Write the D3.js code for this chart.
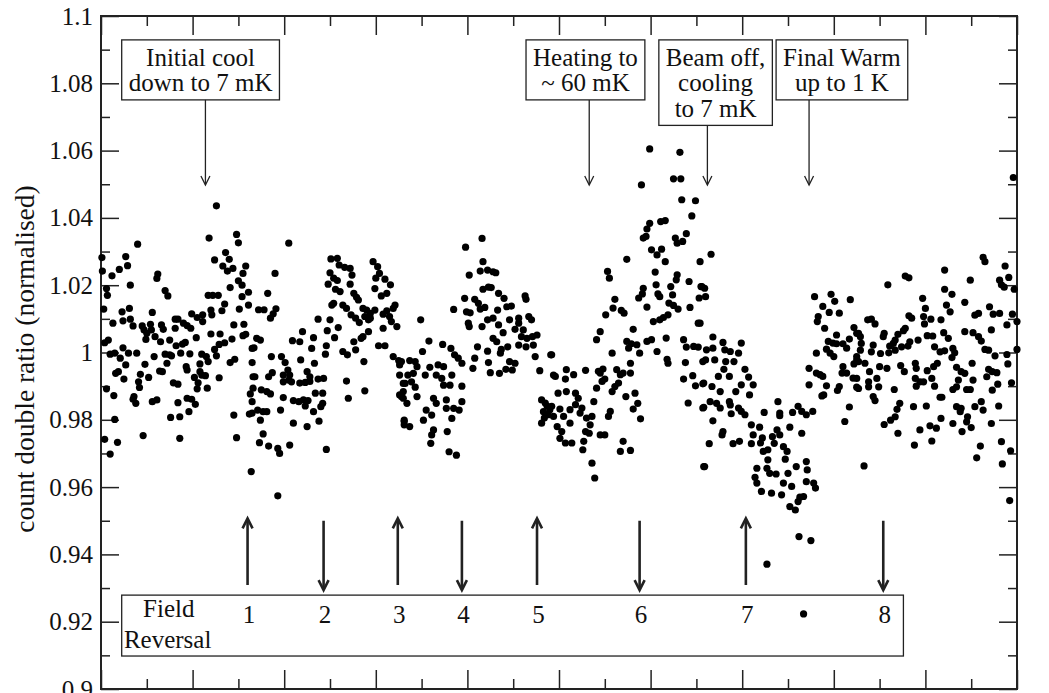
<!DOCTYPE html>
<html>
<head>
<meta charset="utf-8">
<script src="https://cdn.jsdelivr.net/npm/d3@7"></script>
<style>
  body { margin: 0; background: #fff; }
  text { font-family: "Liberation Serif", "Times New Roman", serif; fill: #111; }
</style>
</head>
<body>
<svg id="chart" width="1049" height="693"></svg>
<script>
const block1 = [[12.6,1.0436],[4.0,1.0322],[11.8,1.034],[14.8,1.0351],[15.0,1.0326],[0.1,1.0282],[2.7,1.0285],[2.9,1.0258],[2.0,1.0247],[1.2,1.0228],[0.15,1.0242],[0.6,1.019],[0.7,1.017],[3.2,1.020],[6.2,1.0233],[6.1,1.022],[7.0,1.0184],[7.3,1.0168],[12.4,1.0275],[13.3,1.0257],[13.6,1.0297],[14.0,1.0277],[13.8,1.0242],[14.4,1.025],[15.8,1.0257],[15.5,1.0235],[15.0,1.0213],[15.4,1.02],[16.1,1.0179],[14.1,1.0193],[15.4,1.0166],[11.7,1.017],[12.2,1.017],[12.8,1.017],[13.5,1.0144],[16.1,1.0141],[15.1,1.0129],[12.0,1.0126],[12.1,1.0112],[13.2,1.0124],[9.9,1.0115],[10.5,1.0104],[11.1,1.0112],[11.1,1.0092],[0.3,1.0129],[2.3,1.0121],[3.1,1.0131],[2.4,1.0094],[3.2,1.0099],[3.5,1.0079],[1.3,1.0087],[5.6,1.0119],[4.5,1.0079],[4.7,1.0067],[5.4,1.0084],[5.0,1.0057],[5.5,1.0067],[5.9,1.0047],[4.9,1.0039],[6.6,1.0082],[6.8,1.0069],[8.1,1.0099],[8.4,1.0099],[9.0,1.0087],[9.4,1.008],[9.8,1.0072],[8.1,1.0072],[10.4,1.0044],[7.5,1.0037],[6.5,1.0032],[12.0,1.0055],[13.0,1.0055],[14.5,1.0082],[15.6,1.0084],[15.8,1.0054],[15.5,1.005],[14.3,1.004],[13.5,1.0029],[12.9,1.0024],[0.4,1.0029],[0.8,1.0037],[1.0,0.9995],[1.5,0.9998],[2.1,0.9983],[2.4,1.0014],[3.0,0.9998],[3.9,0.9998],[2.7,0.9963],[1.9,0.9943],[1.6,0.9938],[2.5,0.9921],[4.8,0.9965],[5.8,0.9988],[4.3,0.9935],[4.1,0.9913],[4.2,0.9896],[5.2,0.9926],[6.4,0.9945],[6.7,0.9943],[7.0,0.9995],[7.5,0.9993],[7.7,0.999],[7.2,0.9968],[8.2,1.002],[8.7,0.9998],[8.9,1.0025],[9.2,1.003],[9.7,0.9996],[9.3,0.9958],[9.4,0.9948],[10.2,0.9926],[10.8,0.9966],[11.0,0.9995],[11.5,0.9988],[11.7,0.9973],[10.8,0.9943],[11.0,0.9933],[11.4,0.9931],[10.6,0.991],[10.5,0.9892],[11.6,0.9894],[12.4,1.0009],[12.6,0.999],[12.9,0.9925],[14.1,0.997],[14.6,0.998],[16.5,1.0012],[16.5,0.997],[16.6,0.9928],[7.9,0.991],[8.4,0.9906],[3.6,0.9869],[3.8,0.9849],[3.5,0.9861],[5.6,0.9854],[6.1,0.9859],[9.4,0.9864],[9.9,0.9861],[10.3,0.9846],[9.6,0.9824],[8.4,0.9851],[7.6,0.9807],[8.6,0.9809],[0.6,0.9892],[1.4,0.9872],[1.5,0.9801],[0.4,0.9742],[1.8,0.9733],[1.0,0.9698],[4.6,0.9753],[8.6,0.9745],[14.5,0.9814],[16.2,0.9817],[16.3,0.9877],[14.8,0.9747],[16.4,0.9646]];

const block2 = [[20.5,1.0325],[19.0,1.0235],[18.2,1.0176],[17.2,1.0127],[17.8,1.0127],[19.1,1.013],[18.8,1.0115],[18.5,1.0102],[17.0,1.0042],[17.4,1.0037],[16.7,1.0014],[18.6,0.9988],[19.7,0.9988],[20.1,0.997],[20.4,0.9948],[20.6,0.9933],[19.9,0.9933],[19.9,0.9913],[20.5,0.9918],[20.8,0.9913],[18.3,0.9928],[18.7,0.994],[16.8,0.9928],[16.6,0.9894],[17.5,0.9889],[18.1,0.9884],[18.5,0.9877],[16.5,0.9854],[16.5,0.982],[17.1,0.9829],[17.7,0.9824],[18.1,0.9824],[17.4,0.9799],[17.7,0.9758],[17.3,0.9732],[18.3,0.9722],[19.3,0.9715],[19.5,0.97],[20.6,0.9725],[21.0,0.979],[19.6,0.9829],[19.9,0.9866],[21.0,0.9857],[21.6,0.9854],[22.1,0.9859],[22.6,0.9857],[22.3,0.9841],[23.2,0.9824],[22.5,0.978],[23.8,0.9796],[24.6,0.9712],[19.3,0.9574],[21.7,0.9909],[22.3,0.9911],[22.8,0.9914],[22.8,0.9928],[22.5,0.9943],[23.7,0.9921],[24.3,0.9923],[23.4,0.9879],[24.2,0.9879],[24.2,0.9849],[24.0,0.9839],[20.9,1.0035],[21.7,1.0032],[22.0,1.0062],[23.2,1.0044],[23.0,1.0012],[23.3,0.9968],[21.8,0.9978],[23.7,1.0099],[25.0,1.0097],[24.7,1.0065],[25.9,1.0074],[25.5,1.0044],[24.6,1.002],[24.5,0.9995],[26.4,1.0003],[26.9,0.9993],[27.6,1.0032],[27.8,1.0008],[28.7,0.9973],[26.8,0.9915],[27.0,0.9864],[28.8,0.9886],[25.1,1.0278],[25.8,1.028],[26.0,1.026],[26.6,1.0253],[27.2,1.025],[25.0,1.0237],[25.4,1.0221],[25.8,1.0214],[24.8,1.0203],[27.4,1.023],[27.2,1.0203],[25.6,1.0188],[26.1,1.0181],[25.2,1.0141],[25.4,1.0146],[26.4,1.0141],[26.8,1.0131],[27.6,1.0176],[27.9,1.0164],[28.1,1.0156],[28.6,1.0131],[29.0,1.0126],[27.3,1.0112],[27.8,1.0102],[28.2,1.0089],[28.8,1.0107],[29.4,1.0102],[29.7,1.027],[30.2,1.0255],[30.4,1.0235],[30.0,1.0221],[31.0,1.0218],[31.6,1.0201],[29.9,1.019],[30.6,1.0168],[31.2,1.0176],[32.1,1.0141],[31.9,1.0131],[31.2,1.0124],[30.8,1.0114],[29.9,1.0126],[29.4,1.0116],[29.2,1.0097],[31.5,1.0107],[31.7,1.0092],[32.3,1.0077],[30.8,1.0072],[29.2,1.0062],[28.6,1.0047],[28.4,1.0042],[30.3,1.002],[31.0,1.002],[31.9,0.9988],[32.5,0.9976],[32.6,0.9963],[32.6,0.9933],[32.6,0.9874],[33.0,0.9864],[33.0,0.9908],[33.1,0.9799],[33.1,0.9785]];

const block3 = [[41.6,1.0339],[39.8,1.0313],[41.7,1.027],[41.4,1.0242],[42.2,1.0245],[42.8,1.024],[43.1,1.0237],[40.2,1.023],[41.7,1.0188],[42.3,1.0194],[42.6,1.0193],[43.4,1.0176],[44.0,1.0161],[44.3,1.0136],[44.8,1.0138],[46.3,1.0168],[46.4,1.0158],[39.7,1.0161],[40.8,1.0158],[41.2,1.0146],[41.9,1.0134],[41.4,1.0129],[38.5,1.0128],[39.9,1.0121],[40.3,1.0118],[43.3,1.0126],[40.1,1.0087],[40.2,1.0077],[41.6,1.0077],[42.2,1.0097],[42.8,1.0102],[43.4,1.0082],[44.6,1.0097],[45.6,1.0102],[46.7,1.0107],[47.0,1.0097],[43.9,1.0059],[45.2,1.0069],[45.6,1.0087],[46.1,1.0067],[45.9,1.0047],[46.5,1.0042],[47.1,1.0047],[47.6,1.0052],[42.8,1.0042],[43.2,1.0032],[43.7,1.0009],[44.4,1.0017],[43.6,0.9998],[45.6,1.0022],[46.4,1.0017],[47.2,1.0022],[47.4,0.9988],[41.1,1.0017],[42.2,1.0004],[40.8,0.9983],[40.6,0.9953],[42.3,0.997],[42.5,0.994],[43.5,0.9938],[44.2,0.995],[44.6,0.9973],[45.2,0.9968],[44.9,0.9948],[49.1,0.9993],[47.9,0.9946],[49.4,0.9933],[48.1,0.9859],[48.7,0.9841],[48.3,0.9824],[48.1,0.979],[48.8,0.9815],[48.5,0.985],[49.0,0.983],[48.4,0.9805],[34.9,1.0097],[35.8,1.0034],[37.3,1.0024],[38.2,1.0012],[35.1,1.0003],[38.6,0.9993],[39.0,0.9983],[39.4,0.9968],[32.8,0.9973],[33.7,0.9976],[34.3,0.9973],[34.5,0.9958],[34.1,0.9938],[33.5,0.9933],[33.2,0.9908],[33.9,0.9913],[33.0,0.9884],[35.4,0.9933],[35.9,0.9956],[36.8,0.9963],[37.4,0.9958],[36.6,0.9933],[37.2,0.9923],[37.4,0.9903],[38.3,0.9933],[38.1,0.9903],[39.4,0.99],[34.3,0.9897],[34.5,0.9869],[33.4,0.9849],[32.8,0.9869],[36.3,0.9864],[36.6,0.9849],[37.7,0.9859],[37.7,0.9834],[38.5,0.9834],[39.4,0.9854],[39.1,0.9829],[35.5,0.9829],[36.1,0.9814],[35.2,0.9799],[38.3,0.9804],[33.1,0.9795],[33.7,0.978],[36.3,0.977],[36.1,0.9755],[37.8,0.9765],[36.0,0.973],[38.0,0.9705],[38.8,0.9695]];

const block4 = [[59.9,1.0605],[63.2,1.0595],[59.0,1.0498],[62.5,1.0516],[63.3,1.0516],[63.4,1.0454],[64.9,1.0451],[64.5,1.0406],[59.9,1.0384],[59.6,1.0367],[59.2,1.034],[59.5,1.0345],[61.1,1.0389],[61.6,1.0392],[62.7,1.034],[62.9,1.0325],[63.5,1.033],[63.9,1.0353],[60.1,1.0305],[60.7,1.029],[61.2,1.0307],[61.6,1.027],[57.4,1.0277],[65.4,1.027],[55.3,1.0241],[55.5,1.0221],[60.5,1.0239],[60.6,1.0201],[62.9,1.0231],[62.8,1.0216],[62.2,1.0196],[64.2,1.0211],[65.5,1.0196],[65.3,1.0162],[59.2,1.0191],[58.7,1.0162],[59.1,1.0174],[60.8,1.0174],[61.0,1.0166],[62.4,1.0171],[59.6,1.0135],[62.0,1.0147],[62.5,1.014],[63.0,1.0129],[64.3,1.0134],[56.1,1.0158],[55.9,1.0132],[56.8,1.0125],[57.1,1.0117],[55.1,1.0112],[61.9,1.0112],[61.4,1.0104],[61.0,1.0097],[60.3,1.0092],[65.2,1.0087],[58.1,1.0069],[54.5,1.0062],[54.1,1.0038],[57.4,1.0033],[57.9,1.0026],[58.5,1.0023],[57.6,1.0013],[58.8,0.9998],[59.6,1.0033],[60.1,1.0038],[61.7,1.0043],[60.7,1.0003],[63.6,1.0038],[63.9,1.0016],[64.7,1.0018],[65.2,1.0016],[61.8,0.998],[61.9,0.9968],[63.8,0.997],[65.7,0.9973],[63.6,0.9921],[64.6,0.9931],[64.9,0.9901],[65.7,0.9907],[64.1,0.985],[65.7,0.9835],[55.8,0.9998],[57.8,0.9968],[49.2,0.9993],[52.9,0.9947],[54.5,0.9939],[54.8,0.9951],[54.3,0.9944],[55.0,0.9921],[54.7,0.9914],[54.1,0.9894],[53.8,0.9854],[56.3,0.9949],[56.7,0.9934],[56.5,0.9909],[56.1,0.9899],[57.0,0.9939],[57.8,0.9939],[55.8,0.9884],[57.3,0.9869],[58.3,0.9879],[58.6,0.9849],[58.1,0.9832],[58.9,0.9803],[49.6,0.9929],[50.7,0.9921],[51.6,0.9934],[50.8,0.9949],[49.9,0.9879],[50.8,0.9884],[51.8,0.9879],[52.1,0.9864],[51.8,0.9845],[51.2,0.983],[52.5,0.9835],[52.3,0.982],[49.2,0.984],[49.4,0.981],[50.1,0.9832],[50.5,0.981],[49.8,0.978],[50.3,0.9765],[50.1,0.9745],[50.7,0.9731],[51.4,0.9731],[51.2,0.979],[53.0,0.9805],[53.6,0.981],[53.4,0.9785],[52.9,0.9765],[53.3,0.976],[52.7,0.9736],[52.6,0.9711],[54.5,0.9755],[55.0,0.9755],[55.6,0.9825],[55.4,0.981],[56.7,0.9706],[57.8,0.9709],[57.0,0.9736],[53.6,0.9671],[53.9,0.9627],[65.8,0.9661]];

const block5 = [[66.6,1.0292],[65.6,1.0196],[65.9,1.0191],[66.0,1.0166],[65.4,1.0087],[66.8,1.0046],[67.9,1.003],[69.9,1.0028],[66.1,1.0008],[66.8,1.0013],[68.1,1.0008],[68.7,1.0003],[69.6,0.9998],[66.0,0.9978],[67.0,0.9978],[68.2,0.9973],[69.1,0.9973],[70.3,0.995],[68.0,0.995],[67.4,0.9929],[68.6,0.9929],[65.8,0.9909],[66.7,0.9899],[67.6,0.9884],[70.7,0.9927],[71.2,0.9904],[69.9,0.9904],[69.3,0.9884],[70.8,0.9874],[66.5,0.9854],[67.2,0.9849],[68.6,0.9854],[68.7,0.9844],[67.6,0.9835],[65.8,0.9837],[69.6,0.9835],[69.9,0.9825],[70.3,0.9815],[68.8,0.9818],[66.8,0.9797],[67.9,0.9765],[67.8,0.9755],[69.0,0.9729],[69.7,0.9736],[66.4,0.9729],[65.9,0.9661],[71.0,0.9785],[71.9,0.9778],[71.2,0.9755],[72.4,0.9822],[73.9,0.9854],[74.1,0.982],[74.1,0.9812],[71.0,0.9729],[72.0,0.9731],[72.2,0.9746],[72.3,0.9706],[72.8,0.9711],[73.8,0.977],[74.1,0.9755],[73.3,0.975],[73.5,0.973],[74.5,0.972],[74.9,0.9706],[75.2,0.9778],[75.5,0.9822],[76.1,0.984],[76.5,0.9825],[77.0,0.9815],[77.7,0.9825],[76.5,0.976],[71.6,0.9656],[72.8,0.9681],[72.7,0.9656],[71.4,0.9629],[71.6,0.9612],[72.1,0.9587],[73.0,0.9641],[73.2,0.9582],[73.7,0.9639],[74.7,0.9683],[75.0,0.9641],[74.5,0.9612],[74.3,0.9577],[75.4,0.9602],[75.9,0.9661],[76.3,0.957],[76.7,0.9572],[77.0,0.9676],[77.1,0.9651],[77.0,0.9616],[77.8,0.9612],[78.0,0.9597],[75.2,0.9542],[75.8,0.9532],[76.1,0.9557],[76.2,0.9453],[77.5,0.9441],[72.7,0.9371],[76.7,0.9223],[77.9,1.0166],[79.7,1.0173],[80.1,1.0152],[81.8,1.0157],[78.8,1.0137],[79.5,1.0119],[80.6,1.0117],[78.3,1.0107],[78.2,1.0092],[79.0,1.0072],[80.3,1.0052],[79.4,1.0033],[79.9,1.0028],[80.3,1.0026],[81.0,1.0026],[81.4,1.0013],[81.7,1.004],[82.2,1.0074],[82.5,1.0057],[79.2,1.001],[79.6,0.9998],[80.0,0.9988],[78.1,0.9998],[81.0,0.9958],[82.2,0.9966],[82.5,0.9978],[80.9,0.9939],[81.4,0.9939],[82.1,0.9924],[82.5,0.9897],[77.3,0.9953],[78.1,0.9939],[78.5,0.9934],[78.8,0.9929],[77.3,0.9904],[79.2,0.9901],[78.7,0.9871],[78.9,0.9874],[80.4,0.9887],[80.6,0.9899],[81.7,0.9838],[81.2,0.9795]];

const block6 = [[99.6,1.052],[96.3,1.0283],[96.5,1.027],[92.1,1.0245],[87.8,1.0227],[88.2,1.0222],[85.9,1.0201],[94.9,1.0215],[98.7,1.0257],[99.1,1.0223],[98.3,1.0201],[98.6,1.0194],[99.7,1.0188],[98.1,1.0215],[92.1,1.0188],[92.9,1.0173],[89.7,1.0161],[90.0,1.0131],[92.3,1.0141],[92.7,1.0121],[94.3,1.0149],[97.0,1.0136],[97.4,1.0114],[98.1,1.0116],[99.5,1.0114],[100.0,1.0092],[98.9,1.0082],[95.4,1.0111],[95.8,1.0116],[88.2,1.0109],[88.5,1.0102],[89.8,1.0107],[90.6,1.0099],[91.7,1.0097],[89.9,1.0085],[83.7,1.0097],[84.1,1.0099],[84.5,1.0085],[92.0,1.0059],[94.3,1.0062],[95.2,1.0059],[95.8,1.0047],[96.1,1.0034],[97.2,1.0067],[90.2,1.005],[90.8,1.0049],[92.5,1.0042],[89.2,1.0037],[88.3,1.0032],[87.8,1.0072],[87.6,1.0065],[87.0,1.0054],[86.7,1.0037],[86.5,1.0027],[85.4,1.0047],[85.5,1.0057],[82.7,1.0057],[82.9,1.0047],[91.0,1.0017],[91.6,1.0002],[92.1,1.0005],[93.0,1.0012],[93.2,0.9999],[92.9,0.9985],[96.5,1.0009],[96.9,1.0007],[97.6,0.999],[98.9,0.9994],[100.0,1.0009],[88.1,1.0019],[87.4,1.0017],[86.7,1.0007],[86.1,1.0019],[86.0,0.9999],[85.1,0.9997],[84.3,1.0022],[84.1,1.0002],[83.0,1.0027],[82.9,1.0007],[82.5,0.9988],[82.7,0.9973],[83.4,0.9968],[83.9,0.9943],[85.0,0.9958],[85.8,0.9953],[87.3,0.9961],[87.7,0.9943],[88.9,0.9968],[89.0,0.9953],[90.2,0.9946],[90.9,0.9958],[91.3,0.9968],[93.4,0.9956],[93.9,0.9943],[94.3,0.9938],[95.1,0.9968],[96.9,0.995],[97.3,0.9943],[97.8,0.994],[99.0,0.9966],[96.7,0.9928],[97.9,0.9906],[99.4,0.991],[82.5,0.9923],[82.7,0.9893],[83.8,0.9913],[83.8,0.9898],[84.7,0.9923],[84.9,0.9898],[88.9,0.9923],[89.0,0.99],[89.4,0.9913],[89.8,0.9913],[90.7,0.9923],[91.0,0.99],[91.6,0.9867],[91.8,0.9867],[93.0,0.989],[93.4,0.9898],[94.5,0.989],[94.9,0.989],[93.6,0.9918],[95.2,0.9918],[97.3,0.9888],[84.3,0.9869],[84.5,0.9857],[86.6,0.989],[87.2,0.9849],[86.9,0.9831],[86.7,0.9809],[86.2,0.9799],[85.5,0.9786],[87.0,0.976],[88.7,0.9839],[90.1,0.9841],[91.7,0.9804],[89.4,0.977],[90.5,0.9782],[91.2,0.9775],[90.7,0.9737],[88.8,0.9725],[93.0,0.9789],[93.4,0.9839],[93.9,0.9834],[93.8,0.9824],[94.6,0.9809],[94.5,0.9794],[94.0,0.9765],[95.0,0.9777],[95.4,0.9839],[96.1,0.9854],[96.3,0.9829],[97.2,0.9789],[98.0,0.9841],[96.0,0.9722],[95.6,0.9687],[98.3,0.9735],[99.3,0.9708],[98.4,0.9669],[83.3,0.9663],[99.2,0.956]];

// y axis ticks
const yMajor = [0.9, 0.92, 0.94, 0.96, 0.98, 1.0, 1.02, 1.04, 1.06, 1.08, 1.1];
const yMinor = [0.91, 0.93, 0.95, 0.97, 0.99, 1.01, 1.03, 1.05, 1.07, 1.09];
const xMajor = [0, 10, 20, 30, 40, 50, 60, 70, 80, 90, 100];
const xMinor = [5, 15, 25, 35, 45, 55, 65, 75, 85, 95];

// event annotations (box left edge and arrow position in time units)
const eventLines = [["Initial cool", "down to 7 mK"], ["Heating to", "~ 60 mK"], ["Beam off,", "cooling", "to 7 mK"], ["Final Warm", "up to 1 K"]];
const eventBoxLeft = [2.26, 46.4, 60.9, 73.7];
const eventArrowX = [11.4, 53.3, 66.2, 77.3];

// field reversals
const reversalX = [16.0, 24.3, 32.4, 39.4, 47.6, 58.8, 70.4, 85.4];
const reversalDir = ["up", "down", "up", "down", "up", "down", "up", "down"];
const reversalLabel = ["1", "2", "3", "4", "5", "6", "7", "8"];

const width = 1049, height = 693;
const margin = {top: 16, right: 32, bottom: 4, left: 101};

const svg = d3.select("#chart");

const x = d3.scaleLinear().domain([0, 100]).range([margin.left, width - margin.right]);
const y = d3.scaleLinear().domain([0.9, 1.1]).range([height - margin.bottom, margin.top]);

const fontSize = 25;

// axes: ticks pointing inward on all four sides
function tickAxis(axis, vals, size, transform, labels) {
    const g = svg.append("g").attr("transform", transform)
        .call(axis.tickValues(vals).tickSize(size).tickPadding(8)
            .tickFormat(labels ? (d => String(+d.toFixed(2))) : ""));
    g.select(".domain").remove();
    g.selectAll("line").attr("stroke", "#222").attr("stroke-width", 1.5);
    g.selectAll("text").attr("font-size", fontSize)
        .attr("font-family", "Liberation Serif, serif").attr("fill", "#111");
    return g;
}

tickAxis(d3.axisLeft(y), yMajor, -18, `translate(${x(0)},0)`, true);
tickAxis(d3.axisLeft(y), yMinor, -9, `translate(${x(0)},0)`, false);
tickAxis(d3.axisRight(y), yMajor, -18, `translate(${x(100)},0)`, false);
tickAxis(d3.axisRight(y), yMinor, -9, `translate(${x(100)},0)`, false);
tickAxis(d3.axisTop(x), xMajor, -19, `translate(0,${y(1.1)})`, false);
tickAxis(d3.axisTop(x), xMinor, -10, `translate(0,${y(1.1)})`, false);
tickAxis(d3.axisBottom(x), xMajor, -19, `translate(0,${y(0.9)})`, false);
tickAxis(d3.axisBottom(x), xMinor, -10, `translate(0,${y(0.9)})`, false);

svg.append("rect")
    .attr("x", x(0)).attr("y", y(1.1))
    .attr("width", x(100) - x(0)).attr("height", y(0.9) - y(1.1))
    .attr("fill", "none").attr("stroke", "#222").attr("stroke-width", 2);

// y axis title
svg.append("text")
    .attr("transform", `translate(34,359) rotate(-90)`)
    .attr("text-anchor", "middle")
    .attr("font-size", 27.5)
    .text("count double ratio (normalised)");

// arrow helper: line from (x, y0) to (x, y1) with an open V head at y1
function arrow(px, y0, y1, w, head, half) {
    const dir = y1 > y0 ? 1 : -1;
    const g = svg.append("g").attr("stroke", "#222").attr("stroke-width", w).attr("fill", "none");
    g.append("line").attr("x1", px).attr("x2", px).attr("y1", y0).attr("y2", y1 - dir * w * 0.3);
    g.append("path")
        .attr("d", `M${px - half},${y1 - dir * head} L${px},${y1} L${px + half},${y1 - dir * head}`)
        .attr("stroke-linejoin", "miter");
}

// event boxes
const boxTop = y(1.0929);
const arrowTip = y(1.0498);
eventLines.forEach((lines, i) => {
    const g = svg.append("g");
    const rect = g.append("rect");
    const left = x(eventBoxLeft[i]);
    const t = g.append("text").attr("font-size", fontSize).attr("text-anchor", "middle");
    lines.forEach((l, j) => {
        t.append("tspan").attr("y", boxTop + 26 + j * 25.5).text(l);
    });
    let maxW = 0;
    t.selectAll("tspan").each(function() { maxW = Math.max(maxW, this.getComputedTextLength()); });
    const bw = maxW + 14;
    t.selectAll("tspan").attr("x", left + bw / 2);
    const bh = 26 + (lines.length - 1) * 25.5 + 8.5;
    rect.attr("x", left).attr("y", boxTop).attr("width", bw).attr("height", bh)
        .attr("fill", "#fff").attr("stroke", "#222").attr("stroke-width", 1.3);
    arrow(x(eventArrowX[i]), boxTop + bh, arrowTip, 1.3, 9, 4.5);
});

// field reversal box
svg.append("rect")
    .attr("x", x(2.26)).attr("y", y(0.9279))
    .attr("width", x(87.6) - x(2.26)).attr("height", y(0.9098) - y(0.9279))
    .attr("fill", "none").attr("stroke", "#222").attr("stroke-width", 1.3);

svg.append("text").attr("x", x(7.4)).attr("y", y(0.9214))
    .attr("text-anchor", "middle").attr("font-size", fontSize).text("Field");
svg.append("text").attr("x", x(2.5)).attr("y", y(0.9122))
    .attr("font-size", fontSize).text("Reversal");

reversalX.forEach((rx, i) => {
    if (reversalDir[i] == "up") {
        arrow(x(rx), y(0.9309), y(0.9507), 2.6, 10, 5);
    } else {
        arrow(x(rx), y(0.9500), y(0.9294), 2.6, 10, 5);
    }
    svg.append("text")
        .attr("x", x(rx) + 1.5).attr("y", y(0.9197))
        .attr("text-anchor", "middle").attr("font-size", fontSize)
        .text(reversalLabel[i]);
});

// data points
const allPoints = [].concat(block1, block2, block3, block4, block5, block6);
svg.append("g").selectAll("circle")
    .data(allPoints)
    .join("circle")
    .attr("cx", d => x(d[0]))
    .attr("cy", d => y(d[1]))
    .attr("r", 3.6)
    .attr("fill", "#000");
</script>
</body>
</html>
